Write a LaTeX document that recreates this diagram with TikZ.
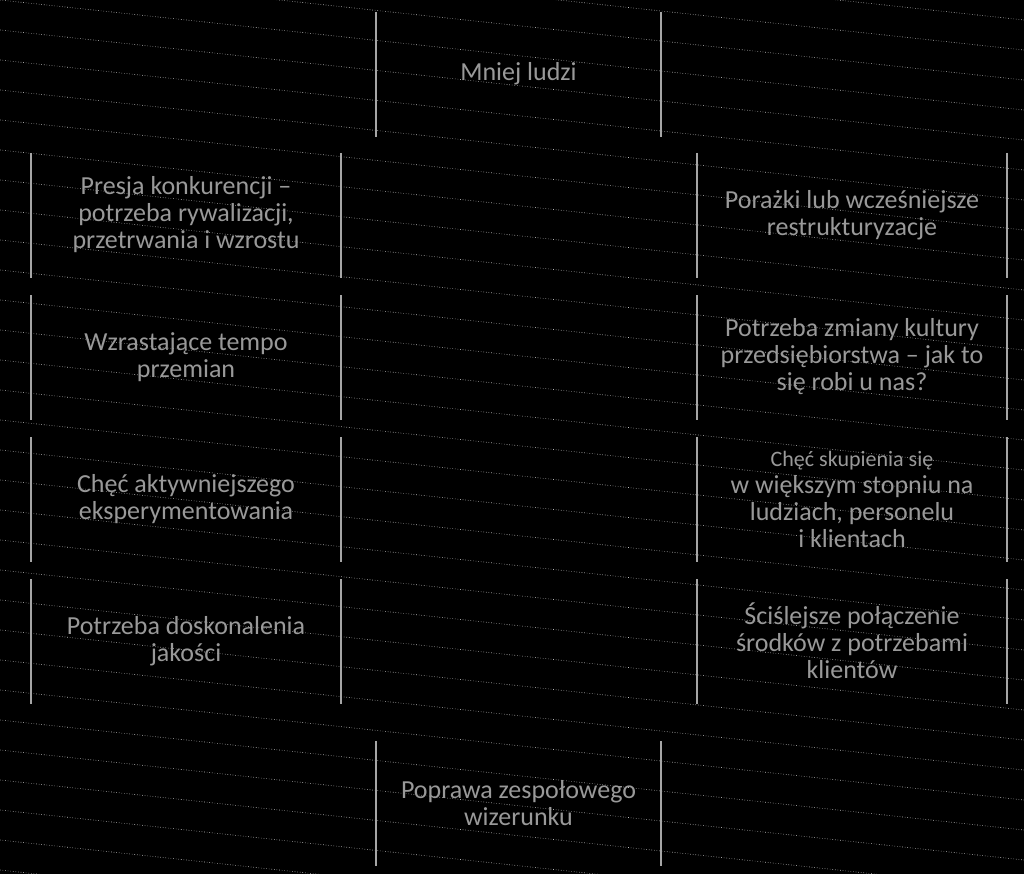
\documentclass[tikz,border=0pt]{standalone}
\usepackage{fontspec}
\setmainfont{Carlito}
\begin{document}
\begin{tikzpicture}[x=1pt,y=-1pt,
  bar/.style={draw=gray!70,line width=1.2pt},
  txt/.style={text=gray!80,font=\fontsize{26}{27}\selectfont,align=center,inner sep=0pt}]
\fill[black] (0,0) rectangle (1024,874);
\useasboundingbox (0,0) rectangle (1024,874);
\foreach \k in {-4,...,30}{
  \draw[gray!45,dotted,line width=0.6pt] (0,\k*30) -- (1024,\k*30+110);
}
\newcommand{\cbox}[5]{% name, x1, x2, y1, text
  \coordinate (#1a) at (#2,#4);
  \coordinate (#1b) at (#2,#4+125);
  \coordinate (#1c) at (#3,#4);
  \coordinate (#1d) at (#3,#4+125);
  \draw[bar] (#1a) -- (#1b);
  \draw[bar] (#1c) -- (#1d);
  \node[txt] (#1) at ({(#2+#3)/2},#4+62) {#5};
}
\cbox{top}{376}{661}{12}{Mniej ludzi}
\cbox{l1}{31}{341}{153}{Presja konkurencji –\\potrzeba rywalizacji,\\przetrwania i wzrostu}
\cbox{l2}{31}{341}{295}{Wzrastające tempo\\przemian}
\cbox{l3}{31}{341}{437}{Chęć aktywniejszego\\eksperymentowania}
\cbox{l4}{31}{341}{579}{Potrzeba doskonalenia\\jakości}
\cbox{r1}{697}{1007}{153}{Porażki lub wcześniejsze\\restrukturyzacje}
\cbox{r2}{697}{1007}{295}{Potrzeba zmiany kultury\\przedsiębiorstwa – jak to\\się robi u nas?}
\cbox{r3}{697}{1007}{437}{\fontsize{22}{24}\selectfont Chęć skupienia się\\w większym stopniu na\\ludziach, personelu\\i klientach}
\cbox{r4}{697}{1007}{579}{Ściślejsze połączenie\\środków z potrzebami\\klientów}
\cbox{bot}{376}{661}{741}{Poprawa zespołowego\\wizerunku}
\end{tikzpicture}
\end{document}
